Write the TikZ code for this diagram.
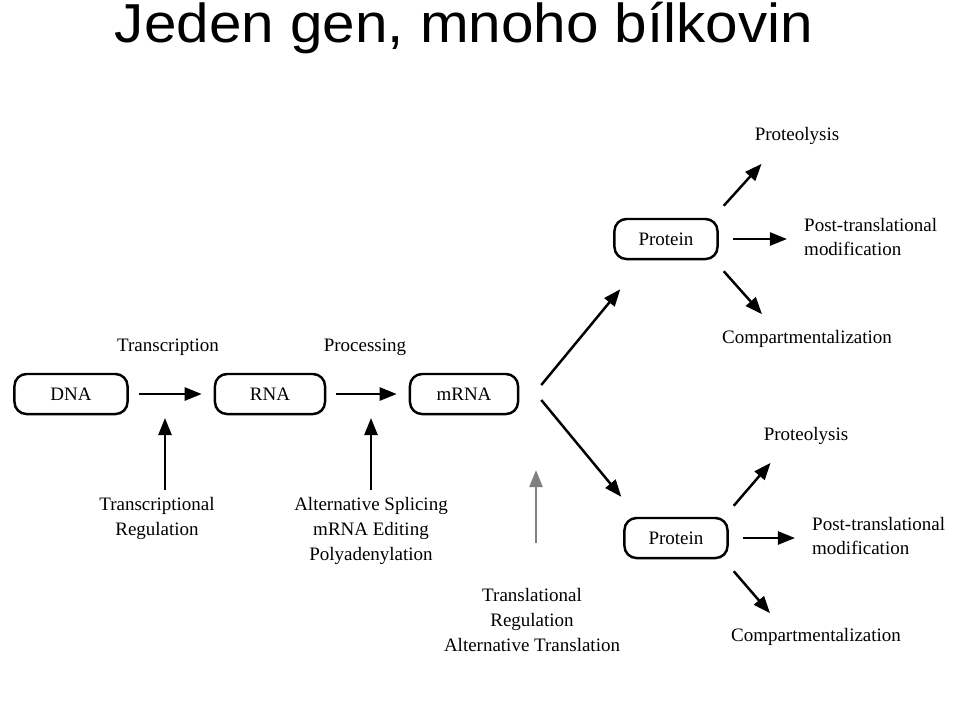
\documentclass[tikz,border=0pt]{standalone}
\usepackage{fontspec}
\setmainfont{Liberation Serif}
\newfontfamily\titlefont{Liberation Sans}
\usetikzlibrary{arrows.meta}

\begin{document}
\begin{tikzpicture}[
  x=0.01cm, y=-0.01cm,
  font=\fontsize{5.4}{7.1}\selectfont,
  every node/.style={align=center, inner sep=1pt},
  molecule/.style={draw, rounded corners=0.12cm, line width=0.7pt,
    minimum width=1.1cm, minimum height=0.4cm},
  link/.style={-{Triangle[length=0.17cm,width=0.13cm]}, line width=0.7pt},
  step link/.style={link, shorten <=0.1cm, shorten >=0.12cm}]
\useasboundingbox (0,0) rectangle (960,711);
\node[anchor=base, transform shape, xscale=1.065,
  font=\titlefont\fontsize{15.6}{18}\selectfont] (title)
  at (464,42) {Jeden gen, mnoho bílkovin};
\node[molecule, minimum width=1.13cm] (dna) at (71,394) {DNA};
\node[molecule] (rna) at (270,394) {RNA};
\node[molecule, minimum width=1.08cm] (mrna) at (464,394) {mRNA};
\node (transcription) at (168,347) {Transcription};
\node (processing) at (365,347) {Processing};
\draw[step link] (dna.east) -- (rna.west);
\draw[step link] (rna.east) -- (mrna.west);
\node[anchor=north] (txreg) at (157,493) {Transcriptional\\ Regulation};
\node[anchor=north] (rnareg) at (371,493)
  {Alternative Splicing\\ mRNA Editing\\ Polyadenylation};
\node[anchor=north] (tlreg) at (532,584)
  {Translational\\ Regulation\\ Alternative Translation};
\coordinate (txhead) at (165,418);
\coordinate (rnahead) at (371,418);
\coordinate (tlhead) at (536,470);
\draw[link, shorten <=0.03cm] (txreg.north -| txhead) -- (txhead);
\draw[link, shorten <=0.03cm] (rnareg.north -| rnahead) -- (rnahead);
\draw[link, gray, shorten <=0.41cm] (tlreg.north -| tlhead) -- (tlhead);
\node[molecule, minimum width=1.03cm] (protA) at (666,239) {Protein};
\node[molecule, minimum width=1.03cm] (protB) at (676,538) {Protein};
\draw[link] ([shift={(22,-9)}]mrna.east) -- ([shift={(7,29)}]protA.south west);
\draw[link] ([shift={(22,6)}]mrna.east) -- ([shift={(-2,-20)}]protB.north west);
\node (lysisA) at (797,136) {Proteolysis};
\node[anchor=west, align=left] (modA) at (800,237)
  {Post-translational\\ modification};
\node (compA) at (807,339) {Compartmentalization};
\draw[link] ([shift={(5,-12)}]protA.north east) -- ([shift={(11,15)}]lysisA.south west);
\draw[link, shorten <=0.14cm, shorten >=0.13cm] (protA.east) -- (protA.east -| modA.west);
\draw[link] ([shift={(5,11)}]protA.south east) -- ([shift={(-45,-12)}]compA.north);
\node (lysisB) at (806,436) {Proteolysis};
\node[anchor=west, align=left] (modB) at (808,536)
  {Post-translational\\ modification};
\node (compB) at (816,637) {Compartmentalization};
\draw[link] ([shift={(5,-11)}]protB.north east) -- ([shift={(11,14)}]lysisB.south west);
\draw[link, shorten <=0.14cm, shorten >=0.13cm] (protB.east) -- (protB.east -| modB.west);
\draw[link] ([shift={(5,12)}]protB.south east) -- ([shift={(-46,-11)}]compB.north);
\end{tikzpicture}
\end{document}
